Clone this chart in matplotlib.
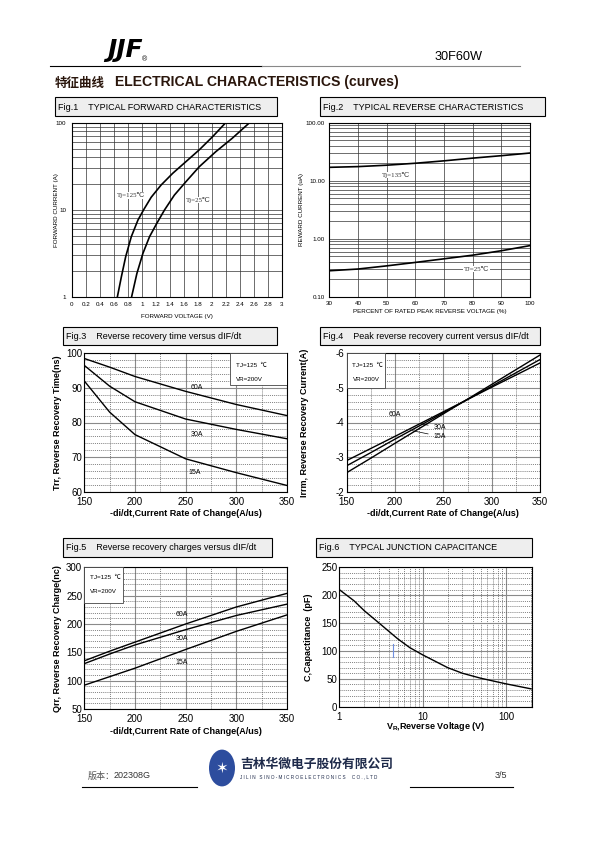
import numpy as np
import matplotlib
matplotlib.use('Agg')
import matplotlib.pyplot as plt
from matplotlib.patches import Rectangle, Circle
from matplotlib.lines import Line2D
from matplotlib.ticker import MultipleLocator, LogLocator, NullFormatter

plt.rcParams['font.family'] = ['Liberation Sans', 'Noto Sans CJK SC', 'DejaVu Sans']
plt.rcParams['mathtext.fontset'] = 'custom'
plt.rcParams['mathtext.rm'] = 'Liberation Sans'
plt.rcParams['mathtext.bf'] = 'Liberation Sans:bold'
plt.rcParams['axes.unicode_minus'] = False

W, H = 595, 842

# Fig.1 forward characteristics
vf_125 = [0.652, 0.709, 0.770, 0.850, 0.945, 1.030, 1.134, 1.275, 1.441, 1.630, 1.819, 2.008, 2.197]
if_125 = [1, 1.70, 2.88, 4.89, 7.6, 10.1, 13.9, 19.2, 26.2, 35.7, 48.7, 68.8, 100]
vf_25 = [0.855, 0.93, 1.016, 1.11, 1.214, 1.323, 1.464, 1.63, 1.82, 2.055, 2.29, 2.537]
if_25 = [1, 1.85, 3.15, 4.89, 6.97, 9.9, 14.7, 21, 31.2, 46.4, 66.2, 100]

# Fig.2 reverse characteristics
vr_pct = [30, 40, 50, 60, 70, 80, 90, 100]
ir_135 = [17, 17.5, 18.5, 20, 22, 24.5, 27, 30]
ir_25 = [0.28, 0.30, 0.34, 0.39, 0.45, 0.52, 0.62, 0.76]

# Fig.3-5 common x
didt = [150, 175, 200, 250, 300, 350]
trr_60 = [98.5, 96.0, 93.3, 89.0, 85.2, 82.0]
trr_30 = [96.5, 90.5, 86.0, 81.0, 78.0, 75.3]
trr_15 = [92.0, 83.0, 76.5, 69.5, 65.5, 61.8]

irm_60 = [-2.90, -3.25, -3.60, -4.31, -5.02, -5.72]
irm_30 = [-2.75, -3.13, -3.52, -4.28, -5.05, -5.82]
irm_15 = [-2.55, -2.97, -3.40, -4.25, -5.10, -5.95]

qrr_60 = [135, 152, 168, 200, 230, 254]
qrr_30 = [130, 147, 163, 190, 215, 235]
qrr_15 = [92, 107, 122, 155, 187, 216]

# Fig.6 junction capacitance
vr_cap = [1, 1.5, 2, 3, 5, 7, 10, 20, 30, 50, 100, 200]
cap = [210, 190, 172, 150, 122, 106, 93, 70, 60, 51, 41, 32]

fig = plt.figure(figsize=(W / 100, H / 100), dpi=100)


def px_axes(x0, y0, x1, y1):
    return fig.add_axes([x0 / W, 1 - y1 / H, (x1 - x0) / W, (y1 - y0) / H])


def ftext(x, y, s, **kw):
    return fig.text(x / W, 1 - y / H, s, **kw)


def fline(x0, x1, y, **kw):
    fig.add_artist(Line2D([x0 / W, x1 / W], [1 - y / H, 1 - y / H], transform=fig.transFigure, **kw))


def caption(x0, y0, x1, y1, text):
    fig.add_artist(Rectangle((x0 / W, 1 - y1 / H), (x1 - x0) / W, (y1 - y0) / H,
                             transform=fig.transFigure, fc='#eeeeee', ec='black', lw=0.8))
    ftext(x0 + 3, (y0 + y1) / 2 + 0.5, text, fontsize=6.5, va='center')


def info_box(ax, x0, x1, y0, y1, tx, ty1, ty2):
    ax.add_patch(Rectangle((x0, y0), x1 - x0, y1 - y0, transform=ax.transAxes,
                           fc='white', ec='#444444', lw=0.6, zorder=3))
    ax.text(tx, ty1, 'TJ=125  ℃', transform=ax.transAxes, fontsize=4.5, zorder=4, va='center')
    ax.text(tx, ty2, 'VR=200V', transform=ax.transAxes, fontsize=4.5, zorder=4, va='center')


def place_labels(ax, xl, yl, xlab, ylab, size, weight):
    # label centres in axes coordinates, read from the page
    ax.set_xlabel(xlab, fontsize=size, fontweight=weight)
    ax.set_ylabel(ylab, fontsize=size, fontweight=weight)
    ax.xaxis.label.set_va('center')
    ax.yaxis.label.set_va('center')
    ax.xaxis.set_label_coords(0.5, xl)
    ax.yaxis.set_label_coords(yl, 0.5)


def lin_grid(ax, xmaj, xmin, ymaj, ymin):
    ax.xaxis.set_major_locator(MultipleLocator(xmaj))
    ax.xaxis.set_minor_locator(MultipleLocator(xmin))
    ax.yaxis.set_major_locator(MultipleLocator(ymaj))
    ax.yaxis.set_minor_locator(MultipleLocator(ymin))
    ax.grid(which='major', color='#8a8a8a', lw=0.8, ls='-')
    ax.grid(which='minor', color='#555555', lw=0.5, ls=(0, (1.5, 1.5)))
    ax.tick_params(which='both', length=0, labelsize=7, pad=1.5)
    ax.tick_params(axis='x', pad=3.5)
    for s in ax.spines.values():
        s.set_linewidth(0.8)


# ---------------- header ----------------
ftext(107, 50, 'JJF', fontsize=18, fontweight='bold', family='DejaVu Sans', va='center', style='italic')
ftext(142, 60, '®', fontsize=5, va='center')
ftext(483, 57, '30F60W', fontsize=9.2, ha='right', va='center')
fline(50, 262, 66, color='black', lw=0.8)
fline(262, 520, 66, color='#888888', lw=0.8)
ftext(55, 83, '特征曲线', fontsize=9, fontweight='bold', family='Noto Sans CJK SC', va='center', color='#2a160c')
ftext(115, 82, 'ELECTRICAL CHARACTERISTICS (curves)', fontsize=10.1, fontweight='bold', va='center', color='#2a160c')

caption(55, 97, 277, 116, 'Fig.1    TYPICAL FORWARD CHARACTERISTICS')
caption(320, 97, 545, 116, 'Fig.2    TYPICAL REVERSE CHARACTERISTICS')
caption(63, 327, 277, 345, 'Fig.3    Reverse recovery time versus dIF/dt')
caption(320, 327, 540, 345, 'Fig.4    Peak reverse recovery current versus dIF/dt')
caption(63, 538, 272, 557, 'Fig.5    Reverse recovery charges versus dIF/dt')
caption(316, 538, 532, 557, 'Fig.6    TYPCAL JUNCTION CAPACITANCE')

serif = ['Liberation Serif', 'DejaVu Serif']

# ---------------- Fig.1 ----------------
ax1 = px_axes(71.7, 122.7, 282, 296.7)
ax1.set_yscale('log')
ax1.set_xlim(0, 3)
ax1.set_ylim(1, 100)
xt = np.arange(0, 3.01, 0.2)
ax1.set_xticks(xt)
ax1.set_xticklabels([f'{t:g}' for t in np.round(xt, 1)])
ax1.set_yticks([1, 10, 100])
ax1.set_yticklabels(['1', '10', '100'])
ax1.yaxis.set_minor_locator(LogLocator(base=10, subs=np.arange(2, 10)))
ax1.yaxis.set_minor_formatter(NullFormatter())
ax1.grid(which='both', color='#333333', lw=0.5)
ax1.tick_params(which='both', length=0, labelsize=4.5, pad=4)
ax1.plot(vf_125, if_125, color='black', lw=1.2)
ax1.plot(vf_25, if_25, color='black', lw=1.2)
ax1.text(0.64, 14.7, 'Tj=125℃', fontsize=5, family=serif, color='#333333', zorder=4, va='center',
         bbox=dict(fc='white', ec='none', pad=0.3))
ax1.text(1.63, 12.9, 'Tj=25℃', fontsize=5, family=serif, color='#333333', zorder=4, va='center',
         bbox=dict(fc='white', ec='none', pad=0.3))
place_labels(ax1, -0.111, -0.07, 'FORWARD VOLTAGE (V)', 'FORWARD CURRENT (A)', 4.5, 'normal')

# ---------------- Fig.2 ----------------
ax2 = px_axes(329.3, 122.7, 530, 296.7)
ax2.set_yscale('log')
ax2.set_xlim(30, 100)
ax2.set_ylim(0.1, 100)
ax2.set_xticks(vr_pct)
ax2.set_yticks([0.1, 1, 10, 100])
ax2.set_yticklabels(['0.10', '1.00', '10.00', '100.00'])
ax2.yaxis.set_minor_locator(LogLocator(base=10, subs=np.arange(2, 10)))
ax2.yaxis.set_minor_formatter(NullFormatter())
ax2.grid(which='both', color='#333333', lw=0.5)
ax2.tick_params(which='both', length=0, labelsize=4.5, pad=3)
ax2.plot(vr_pct, ir_135, color='black', lw=1.2)
ax2.plot(vr_pct, ir_25, color='black', lw=1.2)
ax2.text(48.4, 12.5, 'Tj=135℃', fontsize=5, family=serif, color='#333333', zorder=4, va='center',
         bbox=dict(fc='white', ec='none', pad=0.3))
ax2.text(77, 0.3, 'TJ=25℃', fontsize=5, family=serif, color='#333333', zorder=4, va='center',
         bbox=dict(fc='white', ec='none', pad=0.6))
place_labels(ax2, -0.086, -0.141, 'PERCENT OF RATED PEAK REVERSE VOLTAGE (%)', 'REWARD CURRENT (uA)',
             4.5, 'normal')

# ---------------- Fig.3 ----------------
ax3 = px_axes(84.3, 353.3, 287, 491.7)
ax3.set_xlim(150, 350)
ax3.set_ylim(60, 100)
lin_grid(ax3, 50, 25, 10, 2)
for yv in (trr_60, trr_30, trr_15):
    ax3.plot(didt, yv, color='black', lw=1.0)
ax3.text(255, 89.8, '60A', fontsize=5, zorder=4)
ax3.text(255, 76.2, '30A', fontsize=5, zorder=4)
ax3.text(253, 65.2, '15A', fontsize=5, zorder=4)
info_box(ax3, 0.719, 1.0, 0.771, 1.0, 0.75, 0.91, 0.81)
place_labels(ax3, -0.161, -0.13, '-di/dt,Current Rate of Change(A/us)', 'Trr, Reverse Recovery Time(ns)',
             6.5, 'bold')

# ---------------- Fig.4 ----------------
ax4 = px_axes(346.7, 353.3, 540, 491.7)
ax4.set_xlim(150, 350)
ax4.set_ylim(-2, -6)
lin_grid(ax4, 50, 25, 1, 0.2)
for yv in (irm_60, irm_30, irm_15):
    ax4.plot(didt, yv, color='black', lw=1.0)
ax4.text(193, -4.2, '60A', fontsize=5, zorder=4)
ax4.annotate('30A', xy=(223, -3.98), xytext=(240, -3.86), fontsize=5, va='center',
             arrowprops=dict(arrowstyle='-', lw=0.5, color='black'))
ax4.annotate('15A', xy=(215, -3.78), xytext=(240, -3.60), fontsize=5, va='center',
             arrowprops=dict(arrowstyle='-', lw=0.5, color='black'))
info_box(ax4, 0.0, 0.198, 0.749, 1.0, 0.03, 0.91, 0.81)
place_labels(ax4, -0.156, -0.216, '-di/dt,Current Rate of Change(A/us)', 'Irrm, Reverse Recovery Current(A)',
             6.5, 'bold')

# ---------------- Fig.5 ----------------
ax5 = px_axes(84.3, 567.3, 287, 709)
ax5.set_xlim(150, 350)
ax5.set_ylim(50, 300)
lin_grid(ax5, 50, 25, 50, 10)
for yv in (qrr_60, qrr_30, qrr_15):
    ax5.plot(didt, yv, color='black', lw=1.0)
ax5.text(240, 214, '60A', fontsize=5, zorder=4)
ax5.text(240, 172, '30A', fontsize=5, zorder=4)
ax5.text(240, 130, '15A', fontsize=5, zorder=4)
info_box(ax5, 0.0, 0.191, 0.748, 1.0, 0.03, 0.93, 0.83)
place_labels(ax5, -0.16, -0.13, '-di/dt,Current Rate of Change(A/us)', 'Qrr, Reverse Recovery Charge(nc)',
             6.5, 'bold')

# ---------------- Fig.6 ----------------
ax6 = px_axes(339.3, 567.3, 532.3, 706.7)
ax6.set_xscale('log')
ax6.set_xlim(1, 207)
ax6.set_ylim(0, 250)
ax6.set_xticks([1, 10, 100])
ax6.set_xticklabels(['1', '10', '100'])
ax6.xaxis.set_minor_locator(LogLocator(base=10, subs=np.arange(2, 10)))
ax6.xaxis.set_minor_formatter(NullFormatter())
ax6.yaxis.set_major_locator(MultipleLocator(50))
ax6.yaxis.set_minor_locator(MultipleLocator(10))
ax6.grid(which='major', color='#8a8a8a', lw=0.8, ls='-')
ax6.grid(which='minor', color='#555555', lw=0.5, ls=(0, (1.5, 1.5)))
ax6.tick_params(which='both', length=0, labelsize=7, pad=1.5)
ax6.tick_params(axis='x', pad=3.5)
ax6.plot(vr_cap, cap, color='black', lw=1.0)
ax6.plot([4.4, 4.4], [90, 112], color='#7090e0', lw=0.8)
place_labels(ax6, -0.143, -0.162, r'$\mathbf{V_R}$,Reverse Voltage (V)', 'C,Capactitance  (pF)',
             6.5, 'bold')

# ---------------- footer ----------------
ftext(88, 776, '版本：', fontsize=6.5, color='#555555', va='center', family='Noto Sans CJK SC')
ftext(114, 776, '202308G', fontsize=6.5, color='#333333', va='center')
fline(82, 197, 787, color='black', lw=0.8)
fline(410, 513, 787, color='black', lw=0.8)
ftext(507, 776, '3/5', fontsize=6.5, color='#333333', va='center', ha='right')
fig.add_artist(Circle((222 / W, 1 - 768 / H), 13 / W, transform=fig.transFigure,
                      fc='#2d4d9e', ec='none'))
ftext(222, 768, '✶', fontsize=11, color='white', ha='center', va='center', family='DejaVu Sans')
ftext(240, 764, '吉林华微电子股份有限公司', fontsize=9.2, fontweight='bold', color='#1e2a4a',
      va='center', family='Noto Sans CJK SC')
ftext(240, 777, 'J I L I N   S I N O - M I C R O E L E C T R O N I C S     C O . , L T D',
      fontsize=3.3, color='#1e2a4a', va='center')

fig.savefig('out.png', dpi=100)
